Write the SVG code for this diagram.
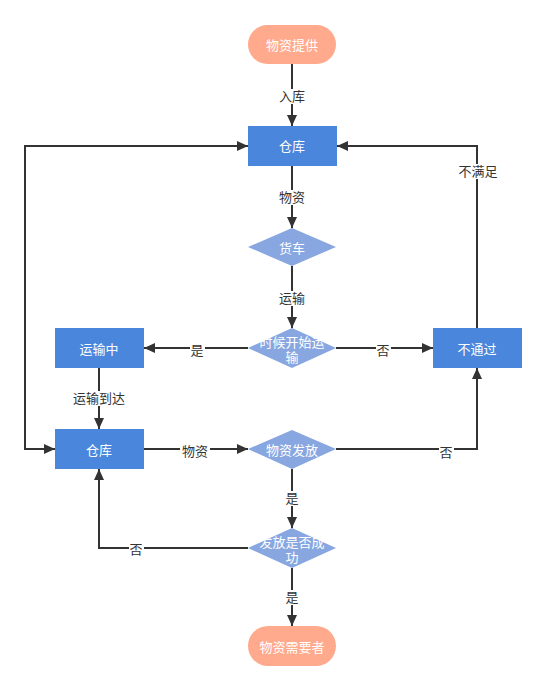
<svg xmlns="http://www.w3.org/2000/svg" width="546" height="691" viewBox="0 0 546 691">
<defs>
<marker id="arr" viewBox="0 0 11 10" refX="11" refY="5" markerWidth="11" markerHeight="10" markerUnits="userSpaceOnUse" orient="auto-start-reverse">
<path d="M0,0 L11,5 L0,10 z" fill="#333333"/>
</marker>
<style>
.term{fill:#FFAA8C;}
.box{fill:#4A86DB;}
.dia{fill:#88A7E1;}
.nt{fill:#ffffff;font-family:"Liberation Sans","Noto Sans CJK SC",sans-serif;font-size:13px;text-anchor:middle;dominant-baseline:central;}
.e{fill:none;stroke:#333333;stroke-width:2;marker-end:url(#arr);}
.lb{fill:#333333;font-family:"Liberation Sans","Noto Sans CJK SC",sans-serif;font-size:13px;text-anchor:middle;dominant-baseline:central;}
.lbg{fill:#ffffff;}
</style>
</defs>
<rect width="546" height="691" fill="#ffffff"/>
<g id="connectors">
<path class="e" d="M292,64 V126"/>
<path class="e" d="M292,166 V228"/>
<path class="e" d="M292,266 V328"/>
<path class="e" d="M248,348 H144"/>
<path class="e" d="M336,348 H433"/>
<path class="e" d="M477,328 V146 H337"/>
<path class="e" d="M99,368 V429"/>
<path class="e" d="M144,449 H248"/>
<path class="e" d="M336,449 H477 V368"/>
<path class="e" d="M292,469 V528"/>
<path class="e" d="M248,548 H99 V469"/>
<path class="e" d="M292,568 V626"/>
<path class="e" style="marker-start:url(#arr)" d="M248,146 H25 V449 H55"/>
<rect class="lbg" x="277" y="89" width="30" height="15"/><text class="lb" x="292" y="96">入库</text>
<rect class="lbg" x="277" y="190" width="30" height="15"/><text class="lb" x="292" y="197">物资</text>
<rect class="lbg" x="277" y="291" width="30" height="15"/><text class="lb" x="292" y="298">运输</text>
<rect class="lbg" x="190" y="342" width="15" height="15"/><text class="lb" x="197" y="350">是</text>
<rect class="lbg" x="376" y="342" width="15" height="15"/><text class="lb" x="383" y="350">否</text>
<rect class="lbg" x="458" y="164" width="40" height="15"/><text class="lb" x="478" y="171">不满足</text>
<rect class="lbg" x="72" y="391" width="54" height="15"/><text class="lb" x="99" y="398">运输到达</text>
<rect class="lbg" x="180" y="444" width="30" height="15"/><text class="lb" x="195" y="451">物资</text>
<rect class="lbg" x="439" y="445" width="15" height="15"/><text class="lb" x="446" y="452">否</text>
<rect class="lbg" x="285" y="491" width="15" height="15"/><text class="lb" x="292" y="498">是</text>
<rect class="lbg" x="129" y="542" width="15" height="15"/><text class="lb" x="136" y="549">否</text>
<rect class="lbg" x="285" y="590" width="15" height="15"/><text class="lb" x="292" y="597">是</text>
</g>
<g id="n-supply"><rect class="term" x="248" y="25" width="88" height="39" rx="19.5"/><text class="nt" x="292" y="45">物资提供</text></g>
<g id="n-warehouse1"><rect class="box" x="248" y="126" width="89" height="40"/><text class="nt" x="292" y="146">仓库</text></g>
<g id="n-truck"><polygon class="dia" points="292,228 336,247 292,266 248,247"/><text class="nt" x="292" y="248">货车</text></g>
<g id="n-when"><polygon class="dia" points="292,328 336,348 292,368 248,348"/><text class="nt" x="292" y="342">时候开始运</text><text class="nt" x="292" y="357">输</text></g>
<g id="n-transit"><rect class="box" x="55" y="328" width="89" height="40"/><text class="nt" x="99" y="349">运输中</text></g>
<g id="n-fail"><rect class="box" x="433" y="328" width="89" height="40"/><text class="nt" x="477" y="349">不通过</text></g>
<g id="n-warehouse2"><rect class="box" x="55" y="429" width="89" height="40"/><text class="nt" x="99" y="450">仓库</text></g>
<g id="n-dispatch"><polygon class="dia" points="292,430 336,449 292,469 248,449"/><text class="nt" x="292" y="450">物资发放</text></g>
<g id="n-success"><polygon class="dia" points="292,528 336,548 292,568 248,548"/><text class="nt" x="292" y="542">发放是否成</text><text class="nt" x="292" y="557">功</text></g>
<g id="n-needer"><rect class="term" x="248" y="626" width="88" height="40" rx="20"/><text class="nt" x="292" y="647">物资需要者</text></g>
</svg>
